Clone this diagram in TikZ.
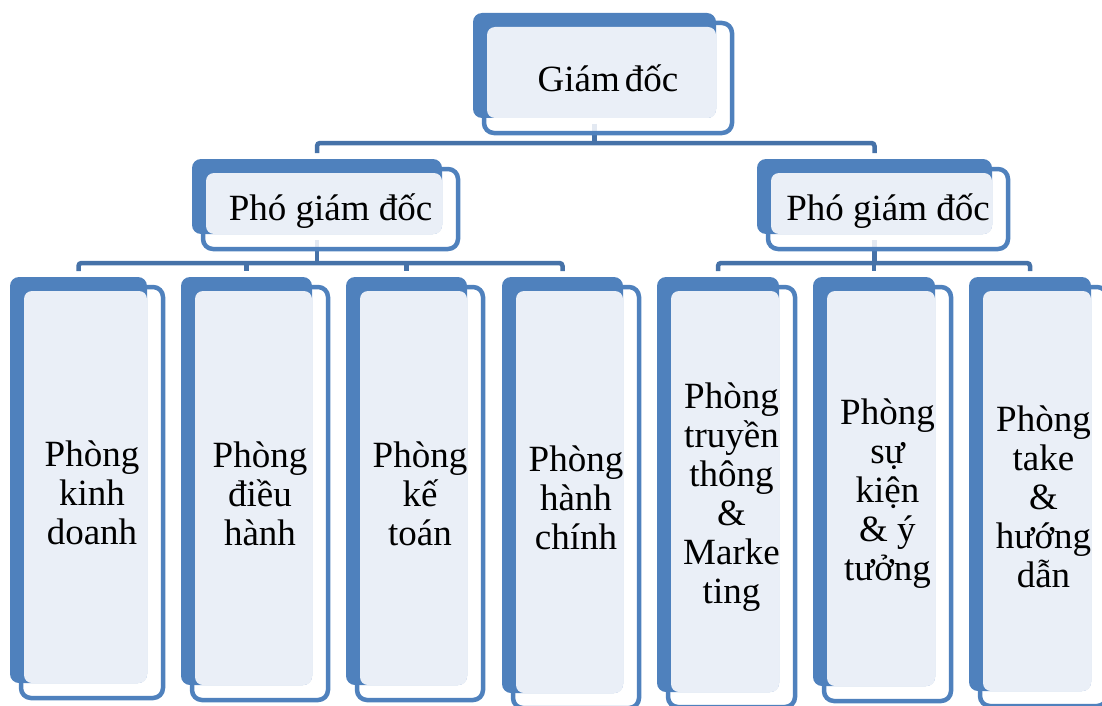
\documentclass[tikz,border=0pt]{standalone}
\usepackage{fontspec}
\setmainfont{Liberation Serif}
\definecolor{boxblue}{HTML}{4F81BD}
\definecolor{lightfill}{HTML}{EAEFF7}
\definecolor{conncol}{HTML}{4672A8}
\pgfdeclarelayer{bg}
\pgfsetlayers{bg,main}
\tikzset{
  frontbox/.style={draw=boxblue, line width=4.5pt, fill=white, fill opacity=0.85, draw opacity=1,
    rounded corners=10pt, inner sep=0pt, outer sep=0pt},
  backbox/.style={fill=boxblue, draw=none, rounded corners=9pt, inner sep=0pt, outer sep=0pt},
  lightbox/.style={fill=lightfill, draw=none, rounded corners=8pt, inner sep=0pt, outer sep=0pt},
  conn/.style={draw=conncol, line width=4.5pt},
  topText/.style={text=black, align=center, inner sep=0pt, font=\fontsize{37}{40}\selectfont},
  deptText/.style={text=black, align=center, inner sep=0pt, font=\fontsize{37}{39}\selectfont},
}
% #1 name, #2 x1, #3 y1, #4 x2, #5 y2 (back rectangle), #6 text style, #7 text
\newcommand\orgbox[7]{%
  \pgfmathsetmacro\obW{#4-#2}%
  \pgfmathsetmacro\obH{#5-#3}%
  \pgfmathsetmacro\obFW{#4-#2+5}%
  \pgfmathsetmacro\obFH{#5-#3+5}%
  \pgfmathsetmacro\obLW{#4-#2-14}%
  \pgfmathsetmacro\obLH{#5-#3-14}%
  \node[frontbox, minimum width=\obFW pt, minimum height=\obFH pt] (f#1) at ({(#2+#4+27)/2},{(#3+#5+25)/2}) {};
  \node[backbox, minimum width=\obW pt, minimum height=\obH pt] (#1) at ({(#2+#4)/2},{(#3+#5)/2}) {};
  \node[lightbox, minimum width=\obLW pt, minimum height=\obLH pt] (l#1) at ({(#2+#4+14)/2},{(#3+#5+14)/2}) {};
  \node[#6] (t#1) at (f#1.center) {#7};
}
\begin{document}
\begin{tikzpicture}[x=1pt, y=-1pt]
\useasboundingbox (0,0) rectangle (1102,706);
\orgbox{gd}{473}{13}{716}{118}{topText}{Giám\hspace{0.14em}đốc}
\orgbox{p1}{192}{159}{442}{234}{topText, yshift=-2pt}{Phó giám đốc}
\orgbox{p2}{757}{159}{992}{234}{topText, yshift=-2pt}{Phó giám đốc}
\orgbox{k1}{10}{277}{147}{683}{deptText}{Phòng\\kinh\\doanh}
\orgbox{k2}{181}{277}{312}{685}{deptText}{Phòng\\điều\\hành}
\orgbox{k3}{346}{277}{467}{685}{deptText}{Phòng\\kế\\toán}
\orgbox{k4}{502}{277}{623}{693}{deptText}{Phòng\\hành\\chính}
\orgbox{k5}{657}{277}{779}{692}{deptText}{Phòng\\truyền\\thông\\\&\\Marke\\ting}
\orgbox{k6}{813}{277}{935}{686}{deptText}{Phòng\\sự\\kiện\\\& ý\\tưởng}
\orgbox{k7}{969}{277}{1091}{691}{deptText}{Phòng\\take\\\&\\hướng\\dẫn}
\coordinate (bus0) at (0,143);
\coordinate (bus1) at (0,263);
\coordinate (bus2) at (0,263);
\begin{pgfonlayer}{bg}
  % director to deputies
  \draw[conn] ([yshift=-6pt]gd.south) -- (gd.south |- bus0);
  \draw[conn, rounded corners=3pt] ([yshift=6pt]p1.north) -- (p1.north |- bus0) -- (p2.north |- bus0) -- ([yshift=6pt]p2.north);
  % left deputy
  \draw[conn] ([yshift=-6pt]p1.south) -- (p1.south |- bus1);
  \draw[conn, rounded corners=3pt] ([yshift=6pt]k1.north) -- (k1.north |- bus1) -- (k4.north |- bus1) -- ([yshift=6pt]k4.north);
  \draw[conn] (k2.north |- bus1) -- ([yshift=6pt]k2.north);
  \draw[conn] (k3.north |- bus1) -- ([yshift=6pt]k3.north);
  % right deputy
  \draw[conn] ([yshift=-6pt]p2.south) -- (p2.south |- bus2);
  \draw[conn, rounded corners=3pt] ([yshift=6pt]k5.north) -- (k5.north |- bus2) -- (k7.north |- bus2) -- ([yshift=6pt]k7.north);
  \draw[conn] (k6.north |- bus2) -- ([yshift=6pt]k6.north);
\end{pgfonlayer}
\end{tikzpicture}
\end{document}
